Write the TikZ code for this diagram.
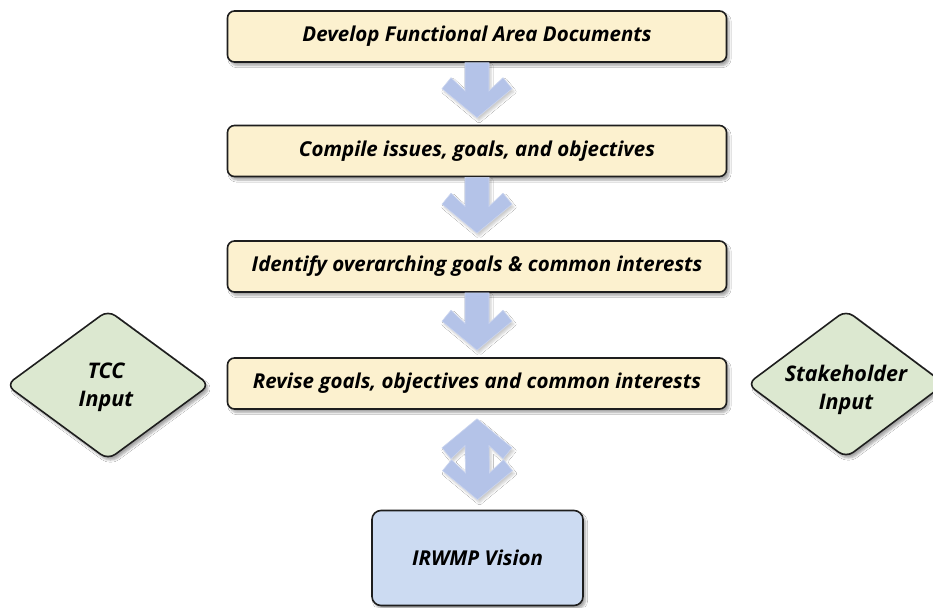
\documentclass[tikz,border=0pt]{standalone}
\usepackage{fontspec}
\setmainfont{Open Sans}
\usetikzlibrary{calc,shapes.geometric,shadows.blur}

\definecolor{stepfill}{HTML}{FCF1CF}
\definecolor{inputfill}{HTML}{DCE8D0}
\definecolor{visionfill}{HTML}{CCDBF2}
\definecolor{arrowblue}{HTML}{B4C3E8}
\definecolor{edgegray}{HTML}{1E1E1E}

\tikzset{
  labeltext/.style={font=\fontsize{20.5}{24}\selectfont\bfseries\itshape, text=black},
  softshadow/.style={blur shadow={shadow xshift=2.5pt, shadow yshift=-3.5pt, shadow blur steps=6, shadow opacity=35}},
  stepbox/.style={labeltext, draw=edgegray, line width=1.6pt, fill=stepfill,
    rounded corners=7pt, minimum width=499pt, minimum height=51pt, inner sep=0pt, softshadow},
  inputdiamond/.style={draw=edgegray, line width=1.6pt, fill=inputfill,
    diamond, rounded corners=9pt, inner sep=0pt, softshadow},
  inputtext/.style={font=\fontsize{21.5}{28}\selectfont\bfseries\itshape, text=black,
    align=center, inner sep=0pt},
  visionbox/.style={labeltext, draw=edgegray, line width=1.6pt, fill=visionfill,
    rounded corners=9pt, minimum width=211pt, minimum height=95pt, inner sep=0pt, softshadow},
  flowfill/.style={fill=arrowblue, draw=arrowblue!70!white, line width=0.6pt,
    blur shadow={shadow xshift=2pt, shadow yshift=-3pt, shadow blur steps=5, shadow opacity=20}},
}

% single downward block arrow from the bottom of #1 to just above #2
\newcommand\flowarrow[2]{%
  \coordinate (tip) at ($(#2.north)+(0,-7)$);
  \path[flowfill]
    ($(#1.south)+(-12,0)$) -- ($(tip)+(-12,-26.8)$) -- ($(tip)+(-26,-40)$)
    -- ($(tip)+(-35,-29)$) -- (tip) -- ($(tip)+(35,-29)$) -- ($(tip)+(26,-40)$)
    -- ($(tip)+(12,-26.8)$) -- ($(#1.south)+(12,0)$) -- cycle;}

\begin{document}
\begin{tikzpicture}[x=1pt,y=-1pt]
  \fill[white] (0,0) rectangle (933,607);
  \useasboundingbox (0,0) rectangle (933,607);

  \node[stepbox] (b1) at (477,36.5) {Develop Functional Area Documents};
  \node[stepbox] (b2) at (477,151) {Compile issues, goals, and objectives};
  \node[stepbox] (b3) at (477,266.5) {Identify overarching goals \& common interests};
  \node[stepbox] (b4) at (477,383.5) {Revise goals, objectives and common interests};

  \node[inputdiamond, minimum width=204pt, minimum height=150pt] (tcc) at (108,385) {};
  \node[inputtext] (tcctext) at ($(tcc.center)+(-2,2)$) {TCC\\Input};
  \node[inputdiamond, minimum width=198pt, minimum height=148pt] (stake) at (846,384) {};
  \node[inputtext] (staketext) at ($(stake.center)+(0,6)$) {Stakeholder\\Input};

  \node[visionbox] (vision) at (477.5,558) {IRWMP Vision};

  \flowarrow{b1}{b2}
  \flowarrow{b2}{b3}
  \flowarrow{b3}{b4}

  % two-headed arrow between the last step and the vision box
  \coordinate (up) at ($(b4.south)+(0,9)$);
  \coordinate (dn) at ($(vision.north)+(0,-10)$);
  \path[flowfill]
    (up) -- ($(up)+(35,29)$) -- ($(up)+(26,40)$) -- ($(up)+(12,26.8)$)
    -- ($(dn)+(12,-26.8)$) -- ($(dn)+(26,-40)$) -- ($(dn)+(35,-29)$) -- (dn)
    -- ($(dn)+(-35,-29)$) -- ($(dn)+(-26,-40)$) -- ($(dn)+(-12,-26.8)$)
    -- ($(up)+(-12,26.8)$) -- ($(up)+(-26,40)$) -- ($(up)+(-35,29)$) -- cycle;
\end{tikzpicture}
\end{document}
